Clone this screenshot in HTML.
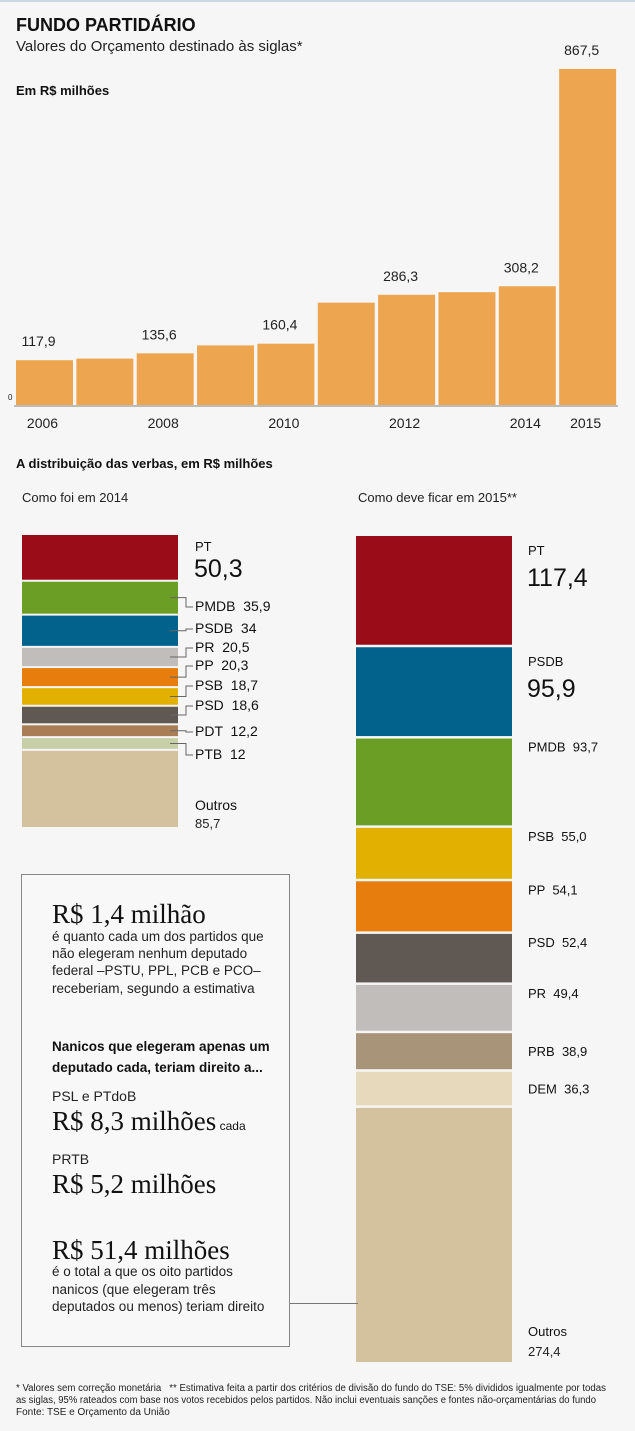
<!DOCTYPE html>
<html><head><meta charset="utf-8"><style>
html,body{margin:0;padding:0;background:#f6f6f6;}
svg{display:block;font-family:"Liberation Sans",sans-serif;}
text{white-space:pre;}
</style></head><body>
<svg id="s" width="635" height="1431" viewBox="0 0 635 1431" xmlns="http://www.w3.org/2000/svg">
<rect x="0" y="0" width="635" height="1431" fill="#f6f6f6"/>
<rect x="0" y="0" width="635" height="2" fill="#c9d9e4"/>
<text x="16" y="31" font-size="18" font-weight="bold" fill="#111">FUNDO PARTIDÁRIO</text>
<text x="16" y="51" font-size="15" fill="#222">Valores do Orçamento destinado às siglas*</text>
<text x="16" y="95" font-size="13" font-weight="bold" fill="#111">Em R$ milhões</text>
<g id="bars"></g>
<text x="8" y="400" font-size="8" fill="#222">0</text>
<rect x="14" y="405" width="604" height="2" fill="#bbb"/>

<text x="16" y="468" font-size="13" font-weight="bold" fill="#111">A distribuição das verbas, em R$ milhões</text>
<text x="22" y="502" font-size="13" fill="#222">Como foi em 2014</text>
<text x="358" y="502" font-size="13" fill="#222">Como deve ficar em 2015**</text>
<g id="left"></g>
<g id="right"></g>

<g>
<rect x="21.5" y="874.5" width="268" height="472" fill="#f8f8f8" stroke="#888" stroke-width="1"/>
<text x="52" y="923" font-family="'Liberation Serif',serif" font-size="27" fill="#111">R$ 1,4 milhão</text>
<g font-size="13.5" fill="#222">
<text x="52" y="941">é quanto cada um dos partidos que</text>
<text x="52" y="958">não elegeram nenhum deputado</text>
<text x="52" y="975">federal –PSTU, PPL, PCB e PCO–</text>
<text x="52" y="993">receberiam, segundo a estimativa</text>
</g>
<g font-size="13.5" font-weight="bold" fill="#111">
<text x="52" y="1051">Nanicos que elegeram apenas um</text>
<text x="52" y="1072">deputado cada, teriam direito a...</text>
</g>
<text x="52" y="1101" font-size="14" fill="#222">PSL e PTdoB</text>
<text x="52" y="1130" font-family="'Liberation Serif',serif" font-size="27" fill="#111">R$ 8,3 milhões<tspan font-family="'Liberation Sans',sans-serif" font-size="12"> cada</tspan></text>
<text x="52" y="1164" font-size="14" fill="#222">PRTB</text>
<text x="52" y="1193" font-family="'Liberation Serif',serif" font-size="27" fill="#111">R$ 5,2 milhões</text>
<text x="52" y="1259" font-family="'Liberation Serif',serif" font-size="27" fill="#111">R$ 51,4 milhões</text>
<g font-size="13.5" fill="#222">
<text x="52" y="1276">é o total a que os oito partidos</text>
<text x="52" y="1294">nanicos (que elegeram três</text>
<text x="52" y="1311">deputados ou menos) teriam direito</text>
</g>
<line x1="290" y1="1303.5" x2="358" y2="1303.5" stroke="#777" stroke-width="1"/>
</g>

<g font-size="10" fill="#222">
<text x="16" y="1391" textLength="590" lengthAdjust="spacingAndGlyphs">* Valores sem correção monetária   ** Estimativa feita a partir dos critérios de divisão do fundo do TSE: 5% divididos igualmente por todas</text>
<text x="16" y="1403" textLength="580" lengthAdjust="spacingAndGlyphs">as siglas, 95% rateados com base nos votos recebidos pelos partidos. Não inclui eventuais sanções e fontes não-orçamentárias do fundo</text>
<text x="16" y="1415">Fonte: TSE e Orçamento da União</text>
</g>
</svg>
<script>
const years = ["2006","2007","2008","2009","2010","2011","2012","2013","2014","2015"];
const values = [117.9,122,135.6,156,160.4,266,286.3,293,308.2,867.5];
const valueLabels = ["117,9","","135,6","","160,4","","286,3","","308,2","867,5"];
const yearLabels = ["2006","","2008","","2010","","2012","","2014","2015"];

const left2014Parties = ["PT","PMDB","PSDB","PR","PP","PSB","PSD","PDT","PTB","Outros"];
const left2014Values = [50.3,35.9,34,20.5,20.3,18.7,18.6,12.2,12,85.7];
const left2014Labels = ["50,3","35,9","34","20,5","20,3","18,7","18,6","12,2","12","85,7"];

const right2015Parties = ["PT","PSDB","PMDB","PSB","PP","PSD","PR","PRB","DEM","Outros"];
const right2015Values = [117.4,95.9,93.7,55.0,54.1,52.4,49.4,38.9,36.3,274.4];
const right2015Labels = ["117,4","95,9","93,7","55,0","54,1","52,4","49,4","38,9","36,3","274,4"];

const NS="http://www.w3.org/2000/svg";
function mk(tag,attrs,parent){const e=document.createElementNS(NS,tag);for(const k in attrs)e.setAttribute(k,attrs[k]);parent.appendChild(e);return e;}

const base=406, yScale=337/867.5;
const y=v=>base-v*yScale;
const x=i=>16+i*60.35;
const bw=57;
const gB=document.getElementById('bars');
years.forEach((yr,i)=>{
  const r=mk('rect',{x:x(i),y:y(values[i]),width:bw,height:base-y(values[i]),fill:'#eda64f'},gB);
  
  
  if(valueLabels[i]){
    const t=mk('text',{x:x(i)+bw/2-6,y:y(values[i])-14,'font-size':14,'text-anchor':'middle',fill:'#222'},gB);
    t.textContent=valueLabels[i];
    
    
  }
  if(yearLabels[i]){
    const t=mk('text',{x:x(i)+bw/2-2,y:428,'font-size':14,'text-anchor':'middle',fill:'#222'},gB);
    t.textContent=yearLabels[i];
    
    
  }
});

const colors={PT:'#990c18',PMDB:'#6a9e24',PSDB:'#03628b',PR:'#c1bdba',PP:'#e67d0c',PSB:'#e2b000',PSD:'#5f5853',PDT:'#a97e56',PTB:'#c6cfa6',PRB:'#a89479',DEM:'#e6d9bc',Outros:'#d4c19d'};

(function(){
  const g=document.getElementById('left');
  const top=535,bottom=827,gap=2;
  const total=left2014Values.reduce((a,b)=>a+b,0);
  const s=(bottom-top-gap*(left2014Values.length-1))/total;
  const labelY=[null,611,633,652,670,690,710,736,759,null];
  let cy=top;
  left2014Parties.forEach((p,i)=>{
    const h=left2014Values[i]*s;
    const r=mk('rect',{x:22,y:cy,width:156,height:h,fill:colors[p]},g);
    
    
    const mid=cy+h/2;
    if(p==='PT'){
      const t=mk('text',{x:195,y:551,'font-size':13,fill:'#111'},g);t.textContent='PT';
      
      
      const v=mk('text',{x:194,y:577,'font-size':25,fill:'#111'},g);v.textContent=left2014Labels[i];
      
      
    } else if(p==='Outros'){
      const t=mk('text',{x:195,y:810,'font-size':14,fill:'#111'},g);t.textContent='Outros';
      
      
      const v=mk('text',{x:195,y:828,'font-size':13,fill:'#222'},g);v.textContent=left2014Labels[i];
      
      
    } else {
      const ly=labelY[i]-4;
      const l=mk('polyline',{points:`170,${mid} 186,${mid} 186,${ly} 193,${ly}`,fill:'none',stroke:'#666','stroke-width':1},g);
      
      
      const t=mk('text',{x:195,y:labelY[i],'font-size':14,fill:'#111'},g);
      t.textContent=p+'  '+left2014Labels[i];
      
      
    }
    cy+=h+gap;
  });
})();

(function(){
  const g=document.getElementById('right');
  const top=536,bottom=1362,gap=2.5;
  const total=right2015Values.reduce((a,b)=>a+b,0);
  const s=(bottom-top-gap*(right2015Values.length-1))/total;
  let cy=top;
  right2015Parties.forEach((p,i)=>{
    const h=right2015Values[i]*s;
    const r=mk('rect',{x:356,y:cy,width:156,height:h,fill:colors[p]},g);
    
    
    if(p==='PT'||p==='PSDB'){
      const t=mk('text',{x:528,y:cy+19,'font-size':13,fill:'#111'},g);t.textContent=p;
      
      
      const v=mk('text',{x:527,y:cy+50,'font-size':25,fill:'#111'},g);v.textContent=right2015Labels[i];
      
      
    } else if(p==='Outros'){
      const t=mk('text',{x:528,y:1336,'font-size':13,fill:'#111'},g);t.textContent='Outros';
      
      
      const v=mk('text',{x:528,y:1356,'font-size':13,fill:'#222'},g);v.textContent=right2015Labels[i];
      
      
    } else {
      const ty=(h>40)?cy+13:cy+h/2+5;
      const t=mk('text',{x:528,y:ty,'font-size':13,fill:'#111'},g);
      t.textContent=p+'  '+right2015Labels[i];
      
      
    }
    cy+=h+gap;
  });
})();
</script>
</body></html>
